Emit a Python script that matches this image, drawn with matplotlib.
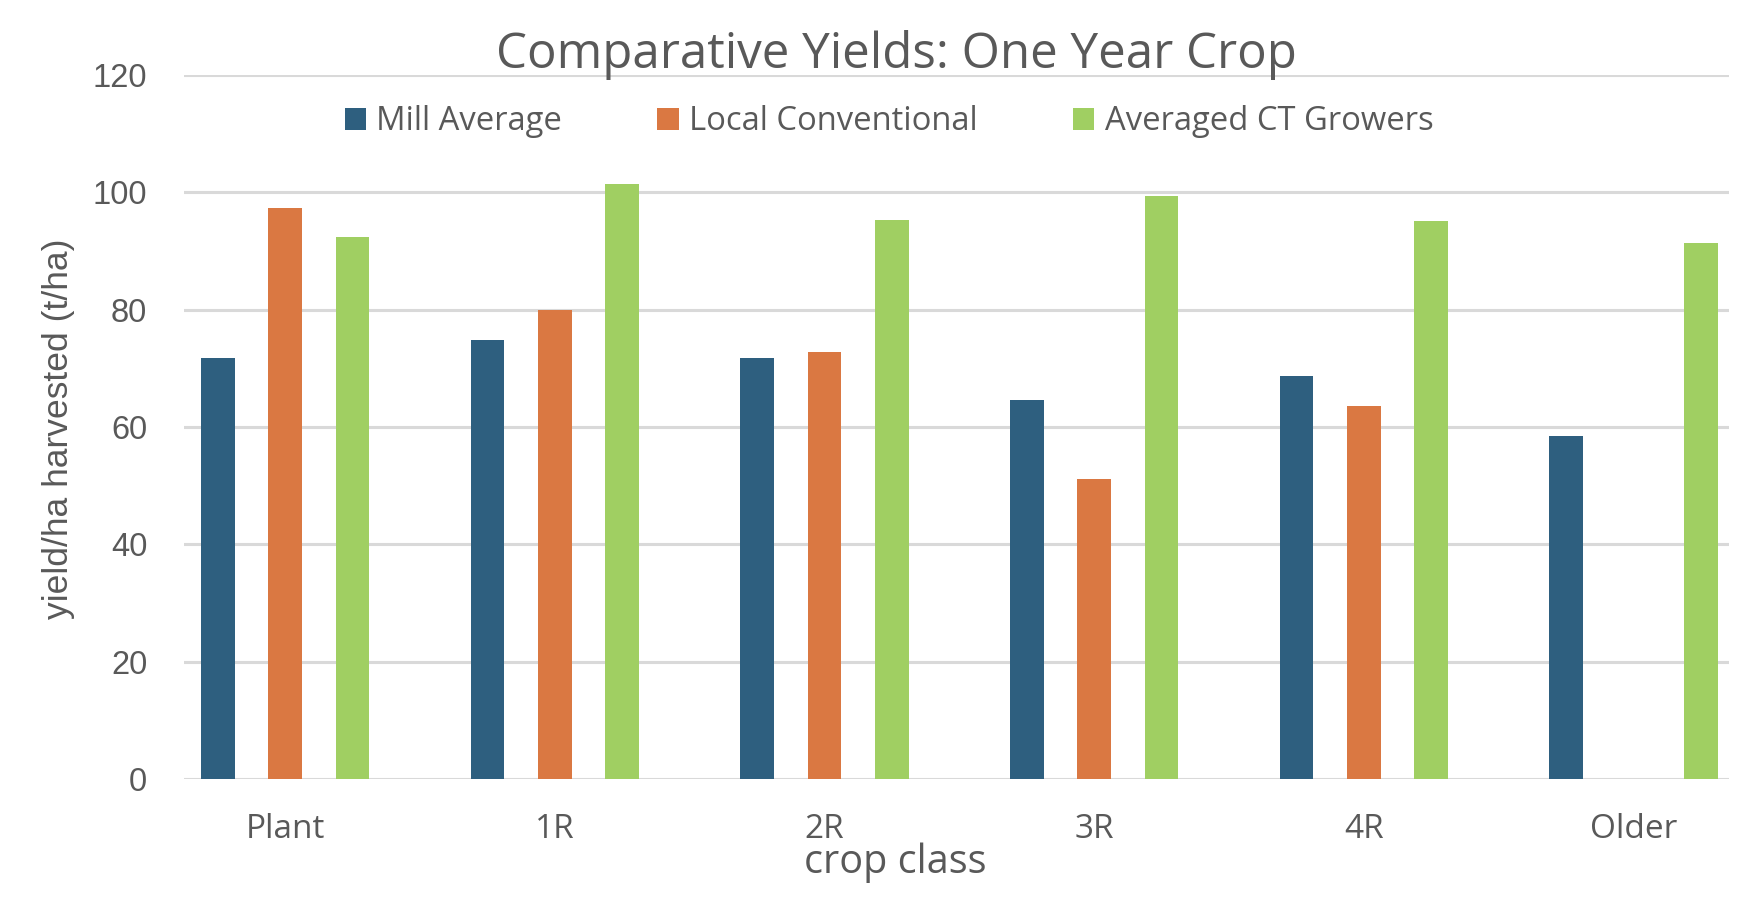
import numpy as np
import matplotlib
matplotlib.use("Agg")
import matplotlib.pyplot as plt
from matplotlib.patches import Patch

categories = ["Plant", "1R", "2R", "3R", "4R", "Older"]
series_names = ["Mill Average", "Local Conventional", "Averaged CT Growers"]
mill_average = [71.7, 74.8, 71.7, 64.6, 68.7, 58.4]
local_conventional = [97.4, 80.0, 72.8, 51.2, 63.6, np.nan]
averaged_ct = [92.4, 101.4, 95.2, 99.4, 95.1, 91.3]
y_ticks = [0, 20, 40, 60, 80, 100, 120]

colors = ["#2E5F7F", "#DA7842", "#A0CF62"]
text_color = "#595959"
grid_color = "#D9D9D9"
main_font = "Open Sans"
axis_font = "Liberation Sans"

W, H = 1762, 900
fig = plt.figure(figsize=(W / 100, H / 100), dpi=100)
ax_left, ax_right, ax_top, ax_bottom = 184, 1729, 75, 779
ax = fig.add_axes([ax_left / W, 1 - ax_bottom / H, (ax_right - ax_left) / W, (ax_bottom - ax_top) / H])

x = np.arange(len(categories))
bw = 0.125
offs = [-0.25, 0.0, 0.25]
for vals, off, c, name in zip([mill_average, local_conventional, averaged_ct], offs, colors, series_names):
    ax.bar(x + off, vals, width=bw, color=c, label=name, zorder=3)

ax.set_xlim(-0.375, 5.354)
ax.set_ylim(0, 120)
ax.set_yticks(y_ticks)
ax.set_yticklabels([str(t) for t in y_ticks], fontsize=23.5, color=text_color, family=axis_font)
ax.set_xticks(x)
ax.set_xticklabels(categories, fontsize=24, color=text_color, family=main_font)
ax.tick_params(axis="y", length=0, pad=26.5)
ax.tick_params(axis="x", length=0, pad=24.5)
ax.grid(axis="y", color=grid_color, linewidth=2.2, zorder=0)
for s in ax.spines.values():
    s.set_visible(False)

fig.text(896 / W, 1 - 68 / H, "Comparative Yields: One Year Crop", ha="center", va="baseline",
         fontsize=35.5, color=text_color, family=main_font)
fig.text(59 / W, 1 - 429 / H, "yield/ha harvested (t/ha)", ha="center", va="center", rotation=90,
         fontsize=25.5, color=text_color, family=axis_font)
fig.text(895 / W, 1 - 873 / H, "crop class", ha="center", va="baseline",
         fontsize=28.5, color=text_color, family=main_font)

handles = [Patch(facecolor=c, edgecolor="none") for c in colors]
leg = fig.legend(handles, series_names, loc="center", bbox_to_anchor=((344 + 1434) / 2 / W, 1 - 122 / H),
                 ncol=3, frameon=False, prop={"family": main_font, "size": 23.6},
                 handlelength=0.66, handleheight=0.66, handletextpad=0.31, columnspacing=2.9,
                 labelcolor=text_color)

fig.savefig("out.png", dpi=100, facecolor="white")
